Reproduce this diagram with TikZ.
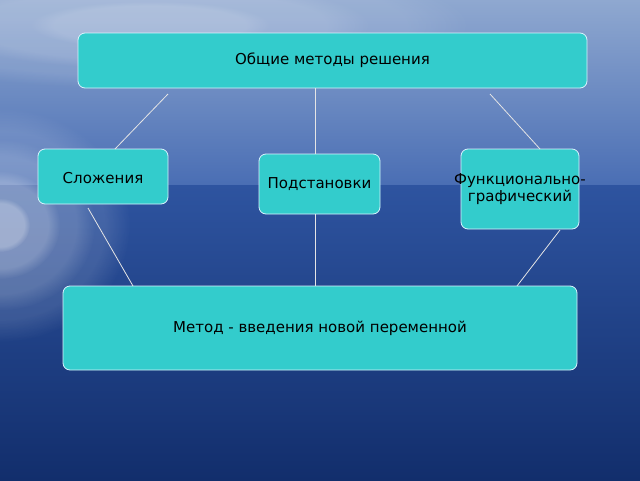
\documentclass[tikz,border=0pt]{standalone}
\usepackage{fontspec}
\setmainfont{DejaVu Sans}
\usetikzlibrary{fadings}
\definecolor{boxc}{HTML}{33CCCC}
\definecolor{skyT}{HTML}{8FA8D0}
\definecolor{skyB}{HTML}{4A6EB4}
\definecolor{seaT}{HTML}{2E54A0}
\definecolor{seaB}{HTML}{122E6C}
\begin{document}
\begin{tikzpicture}[x=1pt,y=-1pt,
  box/.style={draw=white!85!cyan,line width=0.8pt,fill=boxc,rounded corners=7pt,inner sep=0pt,align=center,font=\fontsize{15}{17.5}\selectfont},
  lbl/.style={inner sep=0pt,align=center,font=\fontsize{15}{17.5}\selectfont},
  link/.style={draw=white!80!gray,line width=0.8pt}]
\useasboundingbox (0,0) rectangle (640,480);
\shade[top color=skyT,bottom color=skyB] (0,0) rectangle (640,185);
\shade[top color=seaT,bottom color=seaB] (0,185) rectangle (640,480);
\begin{scope}
\clip (0,0) rectangle (640,480);
\foreach \r/\o in {130/0.12,95/0.15,60/0.2,30/0.25}
  \fill[white,opacity=\o,path fading=circle with fuzzy edge 20 percent] (0,225) ellipse ({\r} and {\r*0.9});
\foreach \r/\o in {320/0.1,220/0.12,120/0.12}
  \fill[white,opacity=\o,path fading=circle with fuzzy edge 20 percent] (150,25) ellipse ({\r} and {\r*0.2});
\end{scope}
\node[box,minimum width=509pt,minimum height=55pt] (top) at (332.5,60.5) {Общие методы решения};
\node[box,minimum width=130pt,minimum height=55pt] (sl) at (103,176.5) {};
\node[lbl] (slt) at (103,178) {Сложения};
\node[box,minimum width=121pt,minimum height=60pt] (pod) at (319.5,184) {Подстановки};
\node[box,minimum width=118pt,minimum height=80pt] (fg) at (520,189) {};
\node[lbl] (fgt) at (520,189) {Функционально-\\графический};
\node[box,minimum width=514pt,minimum height=84pt] (bot) at (320,328) {Метод - введения новой переменной};
\coordinate (a1) at (168,94); \coordinate (a2) at (115,149);
\coordinate (b1) at (315,88); \coordinate (b2) at (315,154);
\coordinate (c1) at (490,94); \coordinate (c2) at (540,149);
\coordinate (d1) at (88,208); \coordinate (d2) at (133,286);
\coordinate (e1) at (315,214); \coordinate (e2) at (315,286);
\coordinate (f1) at (560,230); \coordinate (f2) at (517,286);
\draw[link] (a1)--(a2); \draw[link] (b1)--(b2); \draw[link] (c1)--(c2);
\draw[link] (d1)--(d2); \draw[link] (e1)--(e2); \draw[link] (f1)--(f2);
\end{tikzpicture}
\end{document}
